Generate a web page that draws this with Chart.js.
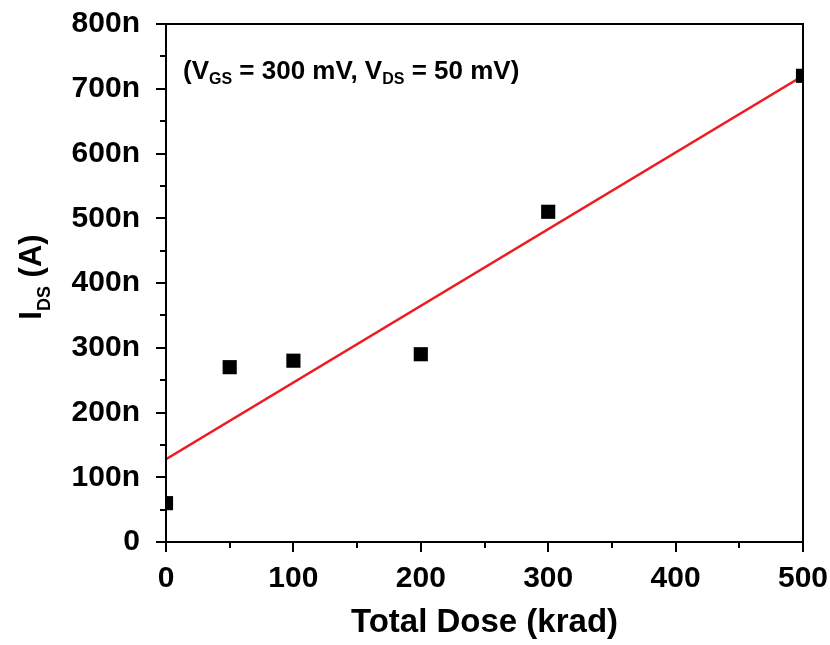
<!DOCTYPE html>
<html>
<head>
<meta charset="utf-8">
<script src="https://cdn.jsdelivr.net/npm/chart.js@4"></script>
<style>
  html, body { margin: 0; padding: 0; background: #fff; }
  #wrap { width: 830px; height: 645px; }
</style>
</head>
<body>
<div id="wrap"><canvas id="myChart" width="830" height="645"></canvas></div>
<script>
// data (current in nA, dose in krad)
const dose = [0, 50, 100, 200, 300, 500];
const current = [60, 270, 280, 290, 510, 720];
const fitDose = [0, 500];
const fitCurrent = [128, 720];
const xTicks = [0, 100, 200, 300, 400, 500];
const yTicks = [0, 100, 200, 300, 400, 500, 600, 700, 800];

const FONT = '"Liberation Sans", Arial, sans-serif';

// frame, ticks (major + minor), y title with subscript, and the annotation
const framePlugin = {
  id: 'framePlugin',
  afterDatasetsDraw(chart) {
    const {ctx, chartArea: {left, top, right, bottom}} = chart;
    const xs = chart.scales.x, ys = chart.scales.y;
    ctx.save();
    ctx.strokeStyle = '#000';
    ctx.lineWidth = 2;
    ctx.strokeRect(left, top, right - left, bottom - top);

    ctx.beginPath();
    for (let v = 0; v <= 800; v += 50) {
      const y = Math.round(ys.getPixelForValue(v));
      const len = v % 100 === 0 ? 10 : 6;
      ctx.moveTo(left, y);
      ctx.lineTo(left - len, y);
    }
    for (let v = 0; v <= 500; v += 50) {
      const x = Math.round(xs.getPixelForValue(v));
      const len = v % 100 === 0 ? 10 : 6;
      ctx.moveTo(x, bottom);
      ctx.lineTo(x, bottom + len);
    }
    ctx.stroke();

    // y axis title: I_DS (A)
    ctx.fillStyle = '#000';
    ctx.textBaseline = 'alphabetic';
    ctx.textAlign = 'left';
    const big = 'bold 31px ' + FONT, small = 'bold 18px ' + FONT;
    ctx.font = big;
    const wI = ctx.measureText('I').width;
    const wA = ctx.measureText(' (A)').width;
    ctx.font = small;
    const wDS = ctx.measureText('DS').width;
    const total = wI + wDS + wA;
    ctx.translate(41, (top + bottom) / 2 - 6);
    ctx.rotate(-Math.PI / 2);
    let cx = -total / 2;
    ctx.font = big;
    ctx.fillText('I', cx, 0);
    cx += wI;
    ctx.font = small;
    ctx.fillText('DS', cx, 9);
    cx += wDS;
    ctx.font = big;
    ctx.fillText(' (A)', cx, 0);
    ctx.setTransform(1, 0, 0, 1, 0, 0);

    // annotation
    const parts = [
      ['(V', false], ['GS', true], [' = 300 mV, V', false], ['DS', true], [' = 50 mV)', false]
    ];
    let ax = left + 17;
    const ay = top + 55;
    parts.forEach(([t, sub]) => {
      ctx.font = sub ? 'bold 16px ' + FONT : 'bold 26px ' + FONT;
      ctx.fillText(t, ax, sub ? ay + 5 : ay);
      ax += ctx.measureText(t).width;
    });
    ctx.restore();
  }
};

const ctx = document.getElementById('myChart').getContext('2d');
const chart = new Chart(ctx, {
  type: 'scatter',
  data: {
    datasets: [{
      label: 'Fit',
      data: fitDose.map((d, i) => ({x: d, y: fitCurrent[i]})),
      showLine: true,
      borderColor: 'rgb(237, 28, 36)',
      borderWidth: 2.5,
      pointRadius: 0,
      clip: 0,
      order: 2
    }, {
      label: 'IDS',
      data: dose.map((d, i) => ({x: d, y: current[i]})),
      pointStyle: 'rect',
      pointRadius: 10,
      pointHoverRadius: 10,
      pointBackgroundColor: '#000',
      pointBorderWidth: 0,
      clip: 0,
      order: 1
    }]
  },
  options: {
    responsive: false,
    animation: false,
    layout: { padding: { left: 0, right: 27, top: 24, bottom: 0 } },
    plugins: { legend: { display: false }, tooltip: { enabled: false } },
    scales: {
      x: {
        type: 'linear',
        min: 0, max: 500,
        afterFit(scale) {
          scale.height = 103;
          scale.paddingLeft = 0;
          scale.paddingRight = 0;
        },
        afterBuildTicks(scale) { scale.ticks = xTicks.map(v => ({value: v})); },
        grid: { display: false },
        border: { display: false },
        ticks: {
          color: '#000',
          padding: 11,
          font: { family: FONT, size: 30, weight: 'bold' }
        },
        title: {
          display: true,
          text: 'Total Dose (krad)',
          color: '#000',
          font: { family: FONT, size: 33, weight: 'bold' },
          padding: { top: 0, bottom: 2 }
        }
      },
      y: {
        type: 'linear',
        min: 0, max: 800,
        afterFit(scale) {
          scale.width = 166;
          scale.paddingTop = 0;
          scale.paddingBottom = 0;
        },
        afterBuildTicks(scale) { scale.ticks = yTicks.map(v => ({value: v})); },
        grid: { display: false },
        border: { display: false },
        ticks: {
          color: '#000',
          padding: 18,
          font: { family: FONT, size: 30, weight: 'bold' },
          callback: v => v === 0 ? '0' : v + 'n'
        }
      }
    }
  },
  plugins: [framePlugin]
});
</script>
</body>
</html>
